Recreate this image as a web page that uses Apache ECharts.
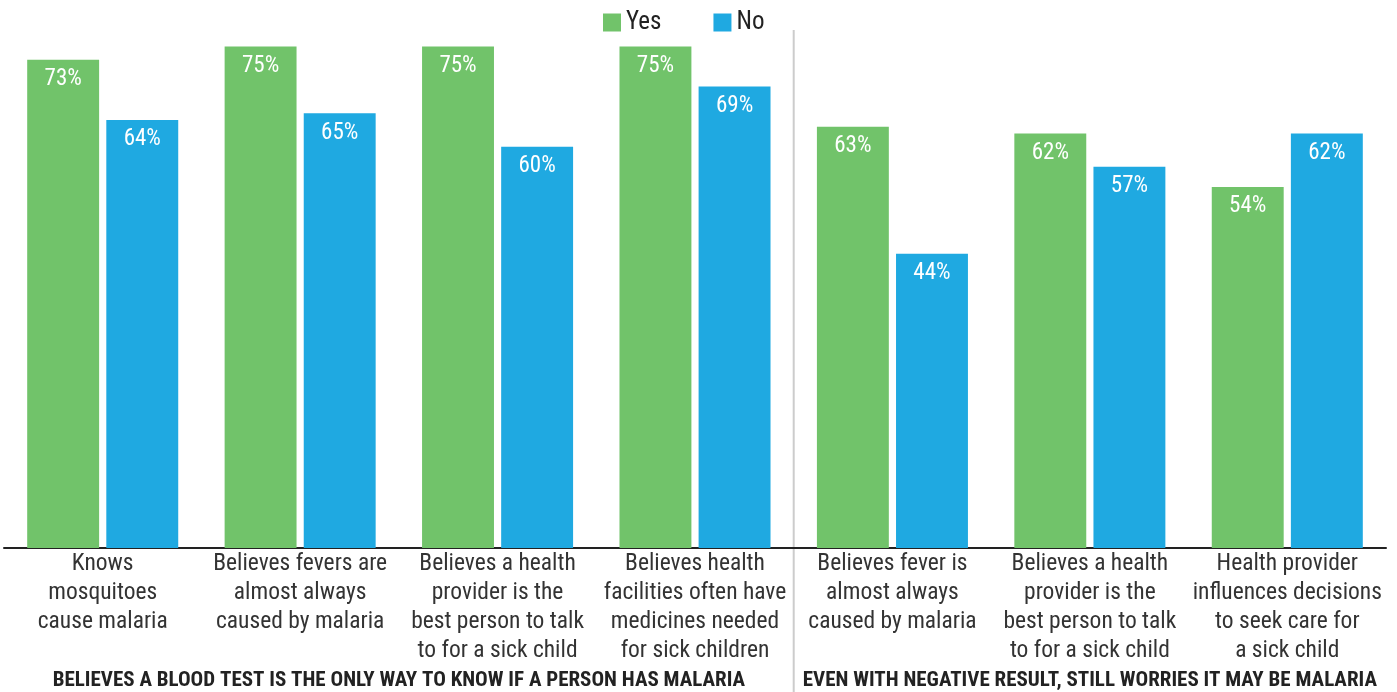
<!DOCTYPE html>
<html><head><meta charset="utf-8">
<script src="https://cdn.jsdelivr.net/npm/echarts@6/dist/echarts.min.js"></script>
<style>html,body{margin:0;padding:0;background:#fff}#c{width:1397px;height:692px}</style>
</head><body><div id="c"></div>
<script>
const categories = [
  "Knows\nmosquitoes\ncause malaria",
  "Believes fevers are\nalmost always\ncaused by malaria",
  "Believes a health\nprovider is the\nbest person to talk\nto for a sick child",
  "Believes health\nfacilities often have\nmedicines needed\nfor sick children",
  "Believes fever is\nalmost always\ncaused by malaria",
  "Believes a health\nprovider is the\nbest person to talk\nto for a sick child",
  "Health provider\ninfluences decisions\nto seek care for\na sick child"
];
const yesValues = [73, 75, 75, 75, 63, 62, 54];
const noValues = [64, 65, 60, 69, 44, 57, 62];
const groupTitles = ["BELIEVES A BLOOD TEST IS THE ONLY WAY TO KNOW IF A PERSON HAS MALARIA", "EVEN WITH NEGATIVE RESULT, STILL WORRIES IT MAY BE MALARIA"];
const seriesNames = ["Yes", "No"];

const FONT = '"Roboto Condensed","Liberation Sans Narrow","DejaVu Sans Condensed",Roboto,sans-serif';
const chart = echarts.init(document.getElementById('c'));
const lbl = {show: true, position: 'insideTop', distance: 8, color: '#fff', fontSize: 23, fontFamily: FONT, formatter: '{c}%'};
chart.setOption({
  animation: false,
  textStyle: {fontFamily: FONT},
  legend: {top: 5, left: 598, itemWidth: 18, itemHeight: 18, itemGap: 52,
    textStyle: {fontSize: 25, color: '#222', fontFamily: FONT}, icon: 'rect'},
  grid: {left: 4, right: 11, top: 13, bottom: 144},
  xAxis: {type: 'category', data: categories,
    axisLine: {lineStyle: {color: '#222', width: 2}}, axisTick: {show: false},
    axisLabel: {interval: 0, margin: 2, fontSize: 23.5, lineHeight: 29, color: '#333', fontFamily: FONT}},
  yAxis: {type: 'value', min: 0, max: 80, show: false, splitLine: {show: false}},
  series: [
    {name: seriesNames[0], type: 'bar', data: yesValues, itemStyle: {color: '#71C36A'}, barGap: '10%', barCategoryGap: '23.5%', label: lbl},
    {name: seriesNames[1], type: 'bar', data: noValues, itemStyle: {color: '#1FA9E1'}, label: lbl}
  ]
});
const x3 = chart.convertToPixel({xAxisIndex: 0}, 3);
const x4 = chart.convertToPixel({xAxisIndex: 0}, 4);
const x0 = chart.convertToPixel({xAxisIndex: 0}, 0);
const x5 = chart.convertToPixel({xAxisIndex: 0}, 5);
const sep = (x3 + x4) / 2;
chart.setOption({graphic: [
  {type: 'line', shape: {x1: sep, y1: 30, x2: sep, y2: 692}, style: {stroke: '#ccc', lineWidth: 2}, z: 0},
  {type: 'text', x: (x0 + x3) / 2, y: 681, style: {text: groupTitles[0], align: 'center', verticalAlign: 'middle', font: 'bold 21px ' + FONT, fill: '#222'}},
  {type: 'text', x: x5, y: 681, style: {text: groupTitles[1], align: 'center', verticalAlign: 'middle', font: 'bold 21px ' + FONT, fill: '#222'}}
]});
</script></body></html>
